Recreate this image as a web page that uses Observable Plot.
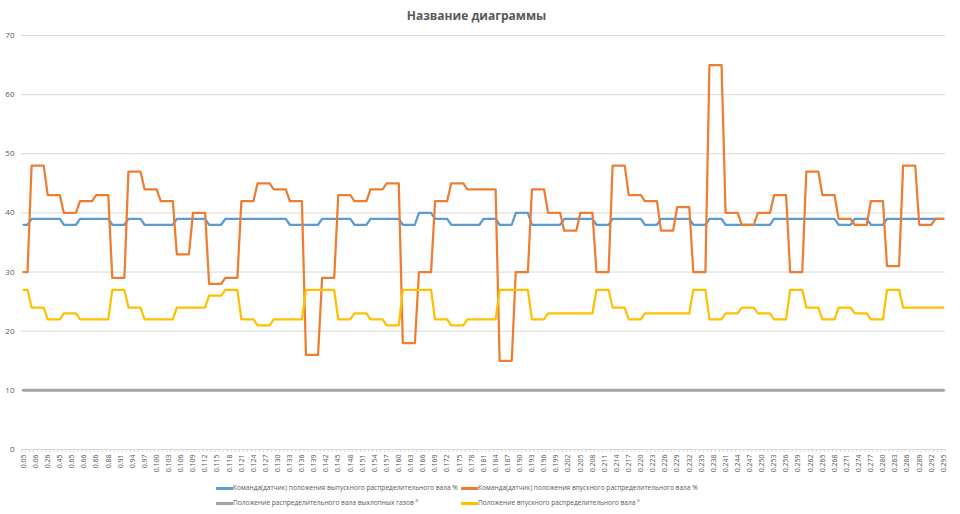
<!DOCTYPE html>
<html>
<head>
<meta charset="utf-8">
<script src="https://cdn.jsdelivr.net/npm/d3@7"></script>
<script src="https://cdn.jsdelivr.net/npm/@observablehq/plot@0.6"></script>
<style>
  html, body { margin: 0; padding: 0; background: #fff; }
  #wrap { position: relative; width: 960px; height: 514px; overflow: hidden; font-family: "Open Sans", sans-serif; }
  #title { position: absolute; top: 7px; left: 0; width: 953px; text-align: center; font-weight: bold; font-size: 12px; color: #595959; }
  .lg { position: absolute; font-size: 6.6px; color: #595959; white-space: nowrap; line-height: 10px; }
  .sw { position: absolute; height: 3px; }
  #chart { position: absolute; left: 0; top: 0; }
</style>
</head>
<body>
<div id="wrap">
  <div id="chart"></div>
  <div id="title">Название диаграммы</div>
  <div id="legend"></div>
</div>
<script>
// Series names (legend)
const seriesNames = [
  "Команда(датчик) положения выпускного распределительного вала %",
  "Команда(датчик) положения впускного распределительного вала %",
  "Положение распределительного вала выхлопных газов °",
  "Положение впускного распределительного вала °"
];
const seriesColors = ["#5B9BD5", "#ED7D31", "#A5A5A5", "#FFC000"];

// X tick labels (every 3rd category)
const tickLabels = ["0.05","0.06","0.26","0.45","0.65","0.66","0.86","0.88","0.91","0.94","0.97",
  "0.100","0.103","0.106","0.109","0.112","0.115","0.118","0.121","0.124","0.127","0.130","0.133",
  "0.136","0.139","0.142","0.145","0.148","0.151","0.154","0.157","0.160","0.163","0.166","0.169",
  "0.172","0.175","0.178","0.181","0.184","0.187","0.190","0.193","0.196","0.199","0.202","0.205",
  "0.208","0.211","0.214","0.217","0.220","0.223","0.226","0.229","0.232","0.235","0.238","0.241",
  "0.244","0.247","0.250","0.253","0.256","0.259","0.262","0.265","0.268","0.271","0.274","0.277",
  "0.280","0.283","0.286","0.289","0.292","0.295"];

// Exhaust camshaft command %
const exhaustCmd = [38,38,
  39,39,39,39, 39,39,39,39, 38,38,38,38, 39,39,39,39, 39,39,39,39,
  38,38,38,38, 39,39,39,39, 38,38,38,38, 38,38,38,38, 39,39,39,39,
  39,39,39,39, 38,38,38,38, 39,39,39,39, 39,39,39,39, 39,39,39,39,
  39,39,39,39, 38,38,38,38, 38,38,38,38, 39,39,39,39, 39,39,39,39,
  38,38,38,38, 39,39,39,39, 39,39,39,39, 38,38,38,38, 40,40,40,40,
  39,39,39,39, 38,38,38,38, 38,38,38,38, 39,39,39,39, 38,38,38,38,
  40,40,40,40, 38,38,38,38, 38,38,38,38, 39,39,39,39, 39,39,39,39,
  38,38,38,38, 39,39,39,39, 39,39,39,39, 38,38,38,38, 39,39,39,39,
  39,39,39,39, 38,38,38,38, 39,39,39,39, 38,38,38,38, 38,38,38,38,
  38,38,38,38, 39,39,39,39, 39,39,39,39, 39,39,39,39, 39,39,39,39,
  38,38,38,38, 39,39,39,39, 38,38,38,38, 39,39,39,39, 39,39,39,39,
  39,39,39,39, 39,39,39];

// Intake camshaft command %
const intakeCmd = [30,30,
  48,48,48,48, 43,43,43,43, 40,40,40,40, 42,42,42,42, 43,43,43,43,
  29,29,29,29, 47,47,47,47, 44,44,44,44, 42,42,42,42, 33,33,33,33,
  40,40,40,40, 28,28,28,28, 29,29,29,29, 42,42,42,42, 45,45,45,45,
  44,44,44,44, 42,42,42,42, 16,16,16,16, 29,29,29,29, 43,43,43,43,
  42,42,42,42, 44,44,44,44, 45,45,45,45, 18,18,18,18, 30,30,30,30,
  42,42,42,42, 45,45,45,45, 44,44,44,44, 44,44,44,44, 15,15,15,15,
  30,30,30,30, 44,44,44,44, 40,40,40,40, 37,37,37,37, 40,40,40,40,
  30,30,30,30, 48,48,48,48, 43,43,43,43, 42,42,42,42, 37,37,37,37,
  41,41,41,41, 30,30,30,30, 65,65,65,65, 40,40,40,40, 38,38,38,38,
  40,40,40,40, 43,43,43,43, 30,30,30,30, 47,47,47,47, 43,43,43,43,
  39,39,39,39, 38,38,38,38, 42,42,42,42, 31,31,31,31, 48,48,48,48,
  38,38,38,38, 39,39,39];

// Exhaust camshaft position °
const exhaustPos = [10,10,
  10,10,10,10, 10,10,10,10, 10,10,10,10, 10,10,10,10, 10,10,10,10,
  10,10,10,10, 10,10,10,10, 10,10,10,10, 10,10,10,10, 10,10,10,10,
  10,10,10,10, 10,10,10,10, 10,10,10,10, 10,10,10,10, 10,10,10,10,
  10,10,10,10, 10,10,10,10, 10,10,10,10, 10,10,10,10, 10,10,10,10,
  10,10,10,10, 10,10,10,10, 10,10,10,10, 10,10,10,10, 10,10,10,10,
  10,10,10,10, 10,10,10,10, 10,10,10,10, 10,10,10,10, 10,10,10,10,
  10,10,10,10, 10,10,10,10, 10,10,10,10, 10,10,10,10, 10,10,10,10,
  10,10,10,10, 10,10,10,10, 10,10,10,10, 10,10,10,10, 10,10,10,10,
  10,10,10,10, 10,10,10,10, 10,10,10,10, 10,10,10,10, 10,10,10,10,
  10,10,10,10, 10,10,10,10, 10,10,10,10, 10,10,10,10, 10,10,10,10,
  10,10,10,10, 10,10,10,10, 10,10,10,10, 10,10,10,10, 10,10,10,10,
  10,10,10,10, 10,10,10];

// Intake camshaft position °
const intakePos = [27,27,
  24,24,24,24, 22,22,22,22, 23,23,23,23, 22,22,22,22, 22,22,22,22,
  27,27,27,27, 24,24,24,24, 22,22,22,22, 22,22,22,22, 24,24,24,24,
  24,24,24,24, 26,26,26,26, 27,27,27,27, 22,22,22,22, 21,21,21,21,
  22,22,22,22, 22,22,22,22, 27,27,27,27, 27,27,27,27, 22,22,22,22,
  23,23,23,23, 22,22,22,22, 21,21,21,21, 27,27,27,27, 27,27,27,27,
  22,22,22,22, 21,21,21,21, 22,22,22,22, 22,22,22,22, 27,27,27,27,
  27,27,27,27, 22,22,22,22, 23,23,23,23, 23,23,23,23, 23,23,23,23,
  27,27,27,27, 24,24,24,24, 22,22,22,22, 23,23,23,23, 23,23,23,23,
  23,23,23,23, 27,27,27,27, 22,22,22,22, 23,23,23,23, 24,24,24,24,
  23,23,23,23, 22,22,22,22, 27,27,27,27, 24,24,24,24, 22,22,22,22,
  24,24,24,24, 23,23,23,23, 22,22,22,22, 27,27,27,27, 24,24,24,24,
  24,24,24,24, 24,24,24];

const yTicks = [0, 10, 20, 30, 40, 50, 60, 70];

const n = intakeCmd.length;
const tickIdx = tickLabels.map((_, i) => i * 3);
const boundaries = d3.range(n + 1).map(i => i - 0.5);
const series = [exhaustCmd, intakeCmd, exhaustPos, intakePos];

const chart = Plot.plot({
  width: 960,
  height: 514,
  marginLeft: 21,
  marginRight: 15,
  marginTop: 35,
  marginBottom: 65,
  style: { fontFamily: "'Open Sans', sans-serif", color: "#595959", background: "transparent" },
  x: { domain: [-0.5, n - 0.5], label: null },
  y: { domain: [0, 70], label: null },
  marks: [
    Plot.gridY(yTicks, { stroke: "#D9D9D9", strokeOpacity: 1, strokeWidth: 1 }),
    Plot.axisY(yTicks, { tickSize: 0, tickPadding: 7, fontSize: 8, label: null }),
    Plot.ruleY([0], { stroke: "#D9D9D9", strokeWidth: 1 }),
    Plot.axisX(boundaries, { tickSize: 3, tickFormat: () => "", stroke: "#D9D9D9", label: null }),
    Plot.axisX(tickIdx, { tickSize: 0, tickPadding: 5, tickRotate: -90, fontSize: 7,
      tickFormat: d => tickLabels[Math.round(d / 3)], label: null }),
    ...series.map((s, k) => Plot.lineY(s, {
      x: (d, i) => i, y: d => d,
      stroke: seriesColors[k], strokeWidth: k === 2 ? 3 : 2.25,
      strokeLinejoin: "round", strokeLinecap: "round"
    }))
  ]
});
document.getElementById("chart").appendChild(chart);

// Legend
const legend = document.getElementById("legend");
const pos = [[216, 483], [461, 483], [216, 498], [461, 498]];
seriesNames.forEach((name, k) => {
  const sw = document.createElement("div");
  sw.className = "sw";
  sw.style.left = pos[k][0] + "px";
  sw.style.top = (pos[k][1] + 4) + "px";
  sw.style.width = "17px";
  sw.style.background = seriesColors[k];
  legend.appendChild(sw);
  const t = document.createElement("div");
  t.className = "lg";
  t.style.left = (pos[k][0] + 17) + "px";
  t.style.top = pos[k][1] + "px";
  t.textContent = name;
  legend.appendChild(t);
});
</script>
</body>
</html>
